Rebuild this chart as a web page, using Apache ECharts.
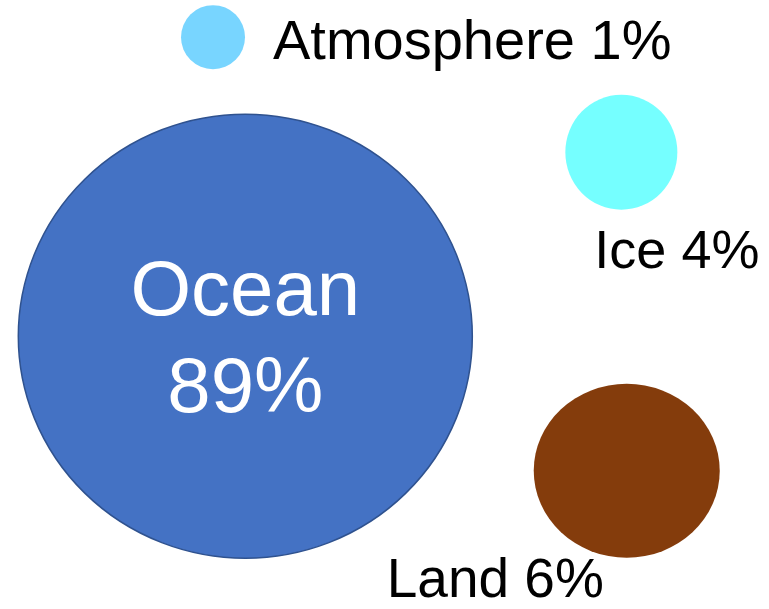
<!DOCTYPE html>
<html>
<head>
<meta charset="utf-8">
<title>Earth's energy storage</title>
<script src="https://cdn.jsdelivr.net/npm/echarts@6/dist/echarts.min.js"></script>
<style>
  html, body { margin: 0; padding: 0; background: #ffffff; }
  #chart { width: 769px; height: 609px; }
</style>
</head>
<body>
<div id="chart"></div>
<script>
// Where the accumulated heat is stored, share in percent
const categories = ['Ocean', 'Atmosphere', 'Ice', 'Land'];
const shares = [89, 1, 4, 6];
// Bubble centres in layout units (0-100 on both axes)
const xValues = [31.9, 27.7, 80.8, 81.5];
const yValues = [44.8, 93.9, 75.0, 22.7];

const FONT = '"Liberation Sans", Arial, Helvetica, sans-serif';

// Per-bubble appearance
const looks = {
  Ocean: {
    size: [454, 444], color: '#4472C4', border: '#2F528F', borderWidth: 1.5,
    label: { position: 'inside', offset: [0, 6], color: '#ffffff', fontSize: 78,
             lineHeight: 97, align: 'center', verticalAlign: 'middle', twoLines: true }
  },
  Atmosphere: {
    size: [64, 64], color: '#78D5FF',
    label: { position: [92, 38], color: '#000000', fontSize: 56, align: 'left', verticalAlign: 'middle' }
  },
  Ice: {
    size: [112, 115], color: '#75FFFF',
    label: { position: [29, 158], color: '#000000', fontSize: 54, align: 'left', verticalAlign: 'middle' }
  },
  Land: {
    size: [186, 174], color: '#843C0C',
    label: { position: [-147, 198], color: '#000000', fontSize: 55, align: 'left', verticalAlign: 'middle' }
  }
};

const points = categories.map((name, i) => {
  const look = looks[name];
  const lb = look.label;
  return {
    name: name,
    value: [xValues[i], yValues[i], shares[i]],
    symbolSize: look.size,
    itemStyle: {
      color: look.color,
      borderColor: look.border || look.color,
      borderWidth: look.borderWidth || 0,
      opacity: 1
    },
    label: {
      show: true,
      position: lb.position,
      offset: lb.offset || [0, 0],
      color: lb.color,
      fontSize: lb.fontSize,
      fontFamily: FONT,
      lineHeight: lb.lineHeight || lb.fontSize,
      align: lb.align,
      verticalAlign: lb.verticalAlign,
      formatter: lb.twoLines ? (p) => p.name + '\n' + p.value[2] + '%'
                             : (p) => p.name + ' ' + p.value[2] + '%'
    }
  };
});

const chart = echarts.init(document.getElementById('chart'), null, { renderer: 'canvas' });
chart.setOption({
  backgroundColor: '#ffffff',
  animation: false,
  grid: { left: 0, right: 0, top: 0, bottom: 0 },
  xAxis: { type: 'value', min: 0, max: 100, show: false },
  yAxis: { type: 'value', min: 0, max: 100, show: false },
  series: [{
    type: 'scatter',
    symbol: 'circle',
    data: points,
    emphasis: { disabled: true }
  }]
});
</script>
</body>
</html>
